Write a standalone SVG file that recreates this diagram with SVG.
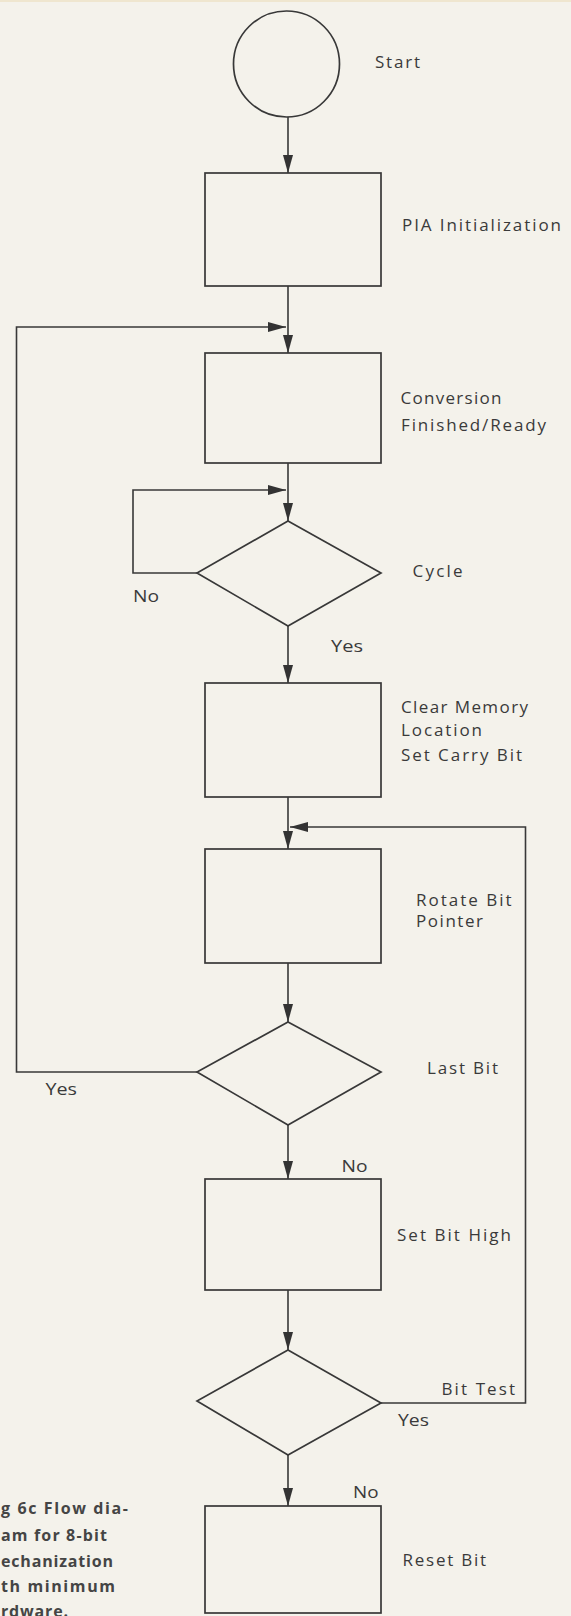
<svg xmlns="http://www.w3.org/2000/svg" width="571" height="1616" viewBox="0 0 571 1616">
<defs>
<marker id="ah" markerUnits="userSpaceOnUse" markerWidth="20" markerHeight="12" viewBox="0 0 20 12" refX="18" refY="6" orient="auto">
<path d="M0,1 L18,6 L0,11 Z" fill="#333"/>
</marker>
</defs>
<style>
.bg{fill:#f4f2eb}
.n{fill:none;stroke:#383838;stroke-width:1.7}
.c{fill:none;stroke:#383838;stroke-width:1.6;marker-end:url(#ah)}
text{font-family:"Open Sans","DejaVu Sans",sans-serif;font-size:17px;fill:#3a3a3a}
.cap{font-weight:bold;font-size:16px;fill:#454545}
</style>
<rect class="bg" x="0" y="0" width="571" height="1616"/>
<rect x="0" y="0" width="571" height="2" fill="#efe6cf"/>
<g id="connectors">
<path class="c" d="M288,117 V173"/>
<path class="c" d="M288,286 V353"/>
<path class="c" d="M197,1072 H16.5 V327 H286"/>
<path class="c" d="M288,463 V521"/>
<path class="c" d="M197,573 H133 V490 H286"/>
<path class="c" d="M288,626 V683"/>
<path class="c" d="M288,797 V849"/>
<path class="c" d="M381,1403 H525.5 V827 H290"/>
<path class="c" d="M288,963 V1022"/>
<path class="c" d="M288,1125 V1179"/>
<path class="c" d="M288,1290 V1350"/>
<path class="c" d="M288,1455 V1506"/>
<text x="133" y="602" textLength="26" lengthAdjust="spacingAndGlyphs">No</text>
<text x="331" y="652" textLength="32" lengthAdjust="spacingAndGlyphs">Yes</text>
<text x="45.5" y="1095" textLength="31.5" lengthAdjust="spacingAndGlyphs">Yes</text>
<text x="341.5" y="1172" textLength="26" lengthAdjust="spacingAndGlyphs">No</text>
<text x="398" y="1426" textLength="31" lengthAdjust="spacingAndGlyphs">Yes</text>
<text x="353" y="1498" textLength="25.5" lengthAdjust="spacingAndGlyphs">No</text>
</g>
<g id="start">
<circle class="n" cx="286.5" cy="64" r="53"/>
<text x="375" y="68" textLength="45" lengthAdjust="spacing">Start</text>
</g>
<g id="pia-init">
<rect class="n" x="205" y="173" width="176" height="113"/>
<text x="402" y="231" textLength="159" lengthAdjust="spacing">PIA Initialization</text>
</g>
<g id="conversion">
<rect class="n" x="205" y="353" width="176" height="110"/>
<text x="400.5" y="404" textLength="101" lengthAdjust="spacing">Conversion</text>
<text x="401" y="431" textLength="145" lengthAdjust="spacing">Finished/Ready</text>
</g>
<g id="cycle">
<polygon class="n" points="288,521 381,573 288,626 197,573"/>
<text x="412.5" y="577" textLength="50" lengthAdjust="spacing">Cycle</text>
</g>
<g id="clear-memory">
<rect class="n" x="205" y="683" width="176" height="114"/>
<text x="401" y="713" textLength="127" lengthAdjust="spacing">Clear Memory</text>
<text x="401" y="736" textLength="81" lengthAdjust="spacing">Location</text>
<text x="401" y="761" textLength="121" lengthAdjust="spacing">Set Carry Bit</text>
</g>
<g id="rotate">
<rect class="n" x="205" y="849" width="176" height="114"/>
<text x="416" y="906" textLength="95.5" lengthAdjust="spacing">Rotate Bit</text>
<text x="416" y="927" textLength="67" lengthAdjust="spacing">Pointer</text>
</g>
<g id="last-bit">
<polygon class="n" points="288,1022 381,1072 288,1125 197,1072"/>
<text x="427" y="1074" textLength="71" lengthAdjust="spacing">Last Bit</text>
</g>
<g id="set-bit-high">
<rect class="n" x="205" y="1179" width="176" height="111"/>
<text x="397" y="1241" textLength="114" lengthAdjust="spacing">Set Bit High</text>
</g>
<g id="bit-test">
<polygon class="n" points="288,1350 381,1403 288,1455 197,1401"/>
<text x="441.5" y="1395" textLength="73.5" lengthAdjust="spacing">Bit Test</text>
</g>
<g id="reset-bit">
<rect class="n" x="205" y="1506" width="176" height="107"/>
<text x="402.5" y="1566" textLength="83.5" lengthAdjust="spacing">Reset Bit</text>
</g>
<g id="caption">
<text class="cap" x="1" y="1514" textLength="127" lengthAdjust="spacing">g 6c  Flow dia-</text>
<text class="cap" x="1" y="1541" textLength="106" lengthAdjust="spacing">am for 8-bit</text>
<text class="cap" x="1" y="1567" textLength="112" lengthAdjust="spacing">echanization</text>
<text class="cap" x="1" y="1592" textLength="114" lengthAdjust="spacing">th minimum</text>
<text class="cap" x="1" y="1617" textLength="67" lengthAdjust="spacing">rdware.</text>
</g>
</svg>
